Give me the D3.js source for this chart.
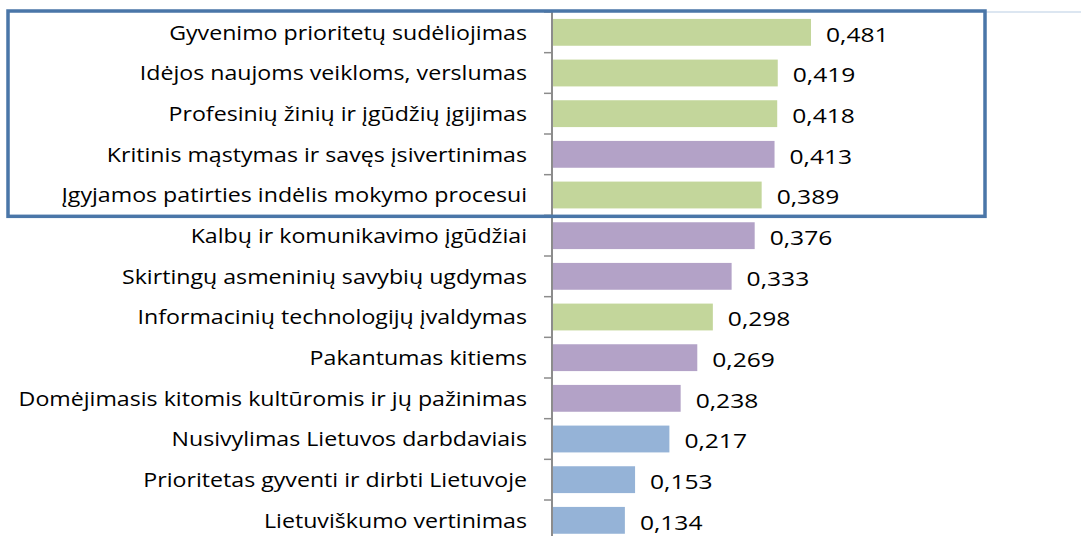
<!DOCTYPE html>
<html>
<head>
<meta charset="utf-8">
<script src="https://cdn.jsdelivr.net/npm/d3@7"></script>
<style>
  html, body { margin: 0; padding: 0; background: #fff; }
  svg { display: block; }
</style>
</head>
<body>
<svg id="chart" width="1081" height="536"></svg>
<script>
// Skill categories, top to bottom
const categories = [
  "Gyvenimo prioritetų sudėliojimas",
  "Idėjos naujoms veikloms, verslumas",
  "Profesinių žinių ir įgūdžių įgijimas",
  "Kritinis mąstymas ir savęs įsivertinimas",
  "Įgyjamos patirties indėlis mokymo procesui",
  "Kalbų ir komunikavimo įgūdžiai",
  "Skirtingų asmeninių savybių ugdymas",
  "Informacinių technologijų įvaldymas",
  "Pakantumas kitiems",
  "Domėjimasis kitomis kultūromis ir jų pažinimas",
  "Nusivylimas Lietuvos darbdaviais",
  "Prioritetas gyventi ir dirbti Lietuvoje",
  "Lietuviškumo vertinimas"
];
const values = [0.481, 0.419, 0.418, 0.413, 0.389, 0.376, 0.333, 0.298, 0.269, 0.238, 0.217, 0.153, 0.134];
// Group of each factor (drives bar colour)
const groups = ["g", "g", "g", "p", "g", "p", "p", "g", "p", "p", "b", "b", "b"];
// Categories enclosed by the highlight frame
const highlighted = categories.slice(0, 5);

const groupColor = { g: "#c3d69b", p: "#b3a2c7", b: "#95b3d7" };
const fmt = v => d3.format(".3f")(v).replace(".", ",");

const svg = d3.select("#chart");
const axisX = 552;
const plotTop = 12, rowStep = 40.667;

const y = d3.scaleBand()
  .domain(categories)
  .range([plotTop, plotTop + rowStep * categories.length])
  .paddingInner(0.34)
  .paddingOuter(0.17);

const x = d3.scaleLinear().domain([0, 0.5]).range([axisX + 1, axisX + 1 + 0.5 * 536.4]);

const font = "'Open Sans', sans-serif";
const fontSize = 20.5;

// Bars
svg.append("g").selectAll("rect")
  .data(categories)
  .join("rect")
  .attr("x", x(0))
  .attr("y", c => y(c))
  .attr("width", (c, i) => x(values[i]) - x(0))
  .attr("height", y.bandwidth())
  .attr("fill", (c, i) => groupColor[groups[i]]);

// Value labels (slightly widened glyphs)
svg.append("g").selectAll("text")
  .data(categories)
  .join("text")
  .attr("transform", (c, i) =>
    `translate(${x(values[i]) + 15},${y(c) + y.bandwidth() / 2 + 2}) scale(1.2,1)`)
  .attr("dy", "0.35em")
  .attr("font-family", font)
  .attr("font-size", fontSize)
  .attr("fill", "#000")
  .text((c, i) => fmt(values[i]));

// Category labels (slightly widened glyphs)
svg.append("g").selectAll("text")
  .data(categories)
  .join("text")
  .attr("transform", c =>
    `translate(${axisX - 25},${y(c) + y.bandwidth() / 2}) scale(1.13,1)`)
  .attr("dy", "0.35em")
  .attr("text-anchor", "end")
  .attr("font-family", font)
  .attr("font-size", fontSize)
  .attr("fill", "#000")
  .text(c => c);

// Category axis: line plus tick marks at band boundaries
const bounds = d3.range(categories.length + 1).map(k => plotTop + k * y.step());
const axis = svg.append("g");
axis.append("line")
  .attr("x1", axisX).attr("x2", axisX)
  .attr("y1", plotTop).attr("y2", plotTop + rowStep * categories.length)
  .attr("stroke", "#8c8c8c").attr("stroke-width", 2);
axis.selectAll(".tick")
  .data(bounds)
  .join("line")
  .attr("class", "tick")
  .attr("x1", axisX - 8).attr("x2", axisX)
  .attr("y1", d => d).attr("y2", d => d)
  .attr("stroke", "#8c8c8c").attr("stroke-width", 1.5);

// Faint frame line continuing to the right edge
svg.append("line")
  .attr("x1", 986).attr("x2", 1081)
  .attr("y1", 12).attr("y2", 12)
  .attr("stroke", "#dce6f1").attr("stroke-width", 2);

// Highlight frame around the top group
const frameTop = y(highlighted[0]) - (y.step() - y.bandwidth()) / 2 - 0.5;
const frameBottom = y(highlighted[highlighted.length - 1]) + y.bandwidth() + (y.step() - y.bandwidth()) / 2 + 1.5;
svg.append("rect")
  .attr("x", 8).attr("y", frameTop - 0.5)
  .attr("width", 985 - 8).attr("height", frameBottom - frameTop)
  .attr("fill", "none")
  .attr("stroke", "#4a76a8").attr("stroke-width", 3.5);
</script>
</body>
</html>
